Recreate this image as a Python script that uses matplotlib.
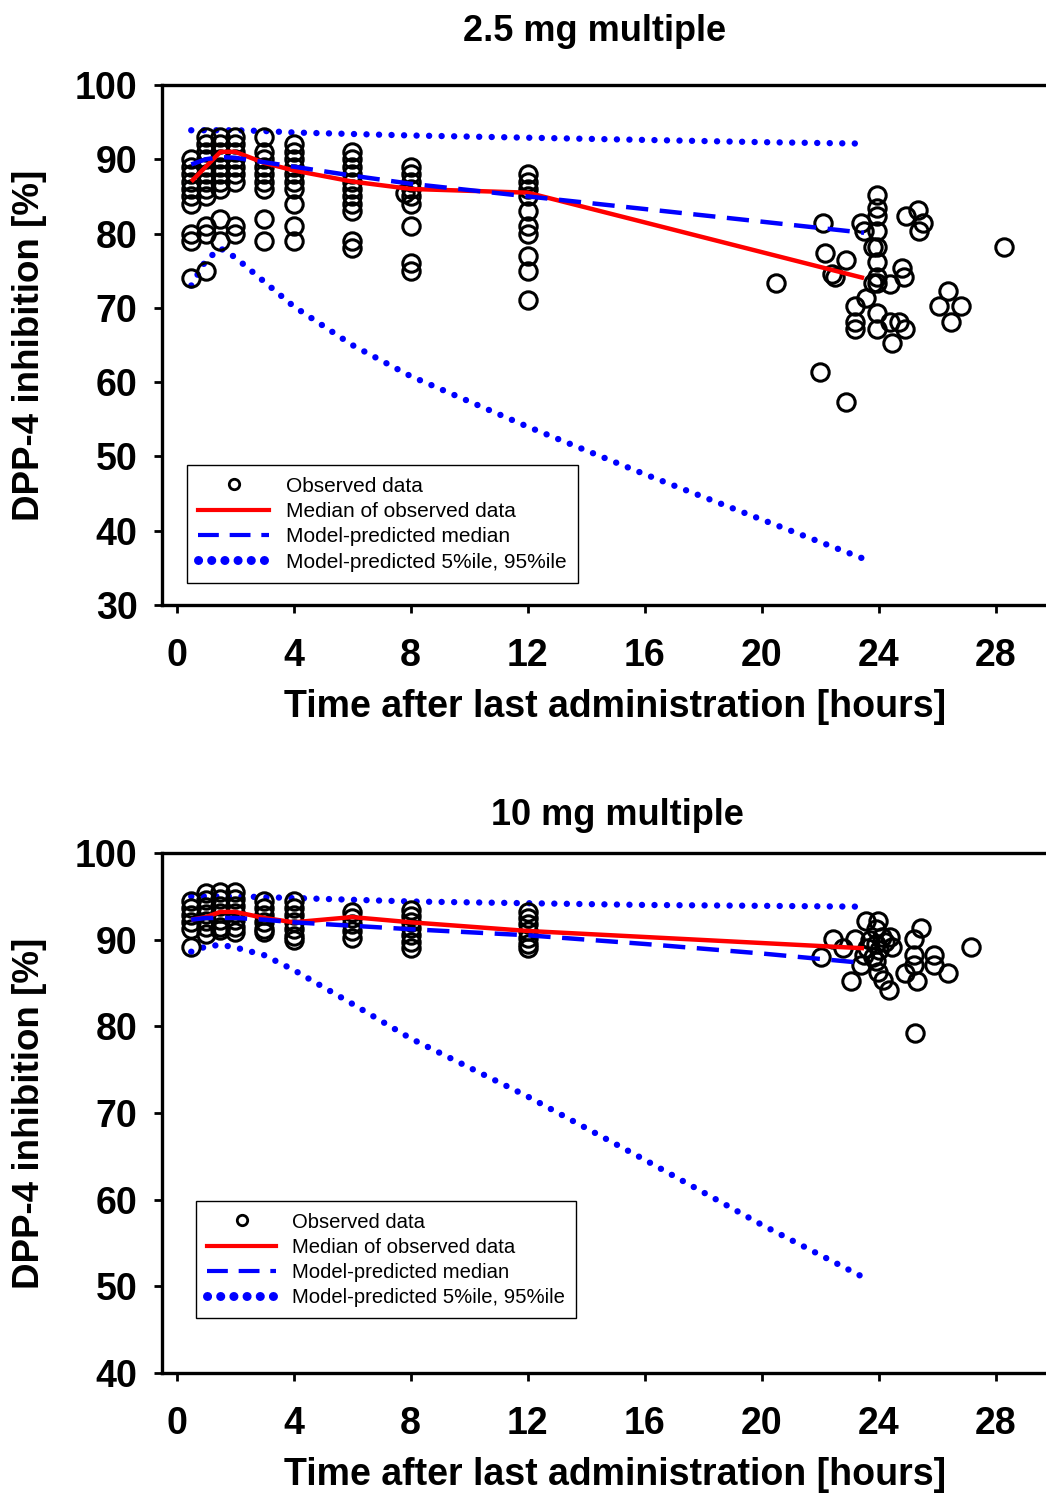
import numpy as np
import matplotlib
matplotlib.use("Agg")
import matplotlib.pyplot as plt
from matplotlib.lines import Line2D

plt.rcParams['font.family'] = ['Liberation Sans', 'DejaVu Sans']

# ---------------- 2.5 mg multiple dose ----------------
obs25_times = [0.5, 1, 1.5, 2, 3, 4, 6, 8, 12]
obs25_values = [
    [90, 89, 88, 87, 86, 85, 84, 80, 79, 74],
    [93, 92, 91, 90, 89, 88, 87, 86, 85, 81, 80, 75],
    [93, 92, 91, 90, 89, 88, 87, 86, 82, 79],
    [93, 92, 91, 90, 89, 88, 87, 81, 80],
    [93, 91, 90, 89, 88, 87, 86, 82, 79],
    [92, 91, 90, 89, 88, 87, 86, 84, 81, 79],
    [91, 90, 89, 88, 87, 86, 85, 84, 83, 79, 78],
    [89, 88, 87, 86, 85, 84, 81, 76, 75],
    [88, 87, 86, 85, 83, 81, 80, 77, 75, 71],
]
late25_t = [7.8, 20.5, 22.0, 22.1, 22.15, 22.4, 22.5, 22.9, 22.9, 23.2, 23.2, 23.2,
            23.4, 23.5, 23.55, 23.8, 23.95, 23.95, 23.95, 23.95, 23.95, 23.95, 23.95,
            23.95, 23.8, 23.95, 23.95, 24.4, 24.4, 24.7, 24.45, 24.9, 24.8, 24.85,
            24.95, 25.34, 25.5, 25.37, 26.37, 26.06, 26.8, 26.46, 28.3]
late25_v = [85.5, 73.3, 61.3, 81.4, 77.4, 74.5, 74.2, 76.4, 57.3, 70.3, 68.1, 67.2,
            81.4, 80.3, 71.3, 78.2, 78.2, 85.2, 83.4, 82.4, 80.3, 76.2, 74.2,
            73.3, 73.3, 69.3, 67.2, 73.2, 68.1, 68.1, 65.2, 67.2, 75.3, 74.2,
            82.3, 83.2, 81.4, 80.3, 72.3, 70.3, 70.3, 68.1, 78.2]

med25_t = [0.5, 1, 1.5, 2, 3, 4, 6, 8, 12, 23.5]
med25_v = [87, 89, 91, 91, 89.5, 88.5, 87, 86, 85.5, 74]

pred25_t = [0.5, 1, 1.5, 2, 3, 4, 6, 8, 12, 16, 20, 23.5]
pred25_med = [89.3, 90.0, 90.3, 90.2, 89.6, 89.0, 87.8, 86.7, 85.0, 83.3, 81.6, 80.1]
pred25_p95 = [93.9, 93.9, 93.9, 93.9, 93.8, 93.6, 93.4, 93.2, 92.9, 92.6, 92.3, 92.1]
pred25_p05 = [73.0, 76.4, 78.0, 76.8, 73.5, 70.2, 65.0, 60.8, 54.0, 47.6, 41.5, 36.2]

# ---------------- 10 mg multiple dose ----------------
obs10_times = [0.5, 1, 1.5, 2, 3, 4, 6, 8, 12]
obs10_values = [
    [94.4, 93.6, 92.8, 92.0, 91.2, 89.2],
    [95.4, 94.6, 93.8, 93.0, 92.2, 91.4, 90.6],
    [95.5, 94.7, 93.9, 93.1, 92.3, 91.5, 91.1],
    [95.5, 94.7, 93.9, 93.1, 92.3, 91.5, 90.9],
    [94.4, 93.6, 92.8, 92.0, 91.2, 90.9],
    [94.4, 93.6, 92.8, 92.0, 91.2, 90.4, 90.0],
    [93.2, 92.5, 91.8, 91.0, 90.2],
    [93.4, 92.7, 92.0, 91.3, 90.5, 89.7, 89.0],
    [93.2, 92.5, 91.8, 91.0, 90.2, 89.5, 89.0],
]
late10_t = [22.03, 22.44, 22.77, 23.07, 23.18, 23.4, 23.58, 23.98, 23.9, 23.7, 23.9,
            24.0, 23.8, 23.9, 24.1, 23.98, 24.15, 24.35, 24.4, 24.46, 25.46, 25.2,
            25.2, 25.2, 24.9, 25.3, 25.9, 25.9, 26.37, 27.16, 25.23, 23.6, 23.5, 24.2]
late10_v = [88.0, 90.1, 89.0, 85.2, 90.1, 87.1, 92.1, 92.1, 91.2, 90.0, 89.5,
            88.8, 88.0, 87.5, 90.3, 86.3, 85.3, 84.2, 90.3, 89.2, 91.3, 90.1,
            88.2, 87.1, 86.1, 85.2, 88.2, 87.1, 86.1, 89.2, 79.2, 89.0, 88.2, 89.7]

med10_t = [0.5, 1, 1.5, 2, 3, 4, 6, 8, 12, 23.5]
med10_v = [92.3, 92.6, 93.2, 93.2, 92.5, 92.0, 92.6, 92.0, 91.0, 89.0]

pred10_t = [0.5, 1, 1.5, 2, 3, 4, 6, 8, 12, 16, 20, 23.5]
pred10_med = [92.3, 92.5, 92.5, 92.5, 92.3, 92.0, 91.6, 91.2, 90.5, 89.5, 88.4, 87.3]
pred10_p95 = [95.0, 95.0, 95.0, 95.0, 94.9, 94.8, 94.6, 94.4, 94.2, 94.0, 93.9, 93.8]
pred10_p05 = [88.6, 89.2, 89.4, 89.1, 88.2, 86.5, 82.6, 78.6, 71.9, 64.6, 57.1, 51.0]

xticks = [0, 4, 8, 12, 16, 20, 24, 28]
legend_labels = ["Observed data", "Median of observed data",
                 "Model-predicted median", "Model-predicted 5%ile, 95%ile"]

BLUE = "#0000ff"
RED = "#ff0000"
TICK_FS = 27
DOT = (0, (0.01, 1.95))
LEG_DOT = (0, (0.01, 1.45))


def flatten(times, values):
    tt, vv = [], []
    for t, vals in zip(times, values):
        tt += [t] * len(vals)
        vv += list(vals)
    return tt, vv


def panel(ax, obs_t, obs_v, late_t, late_v, med_t, med_v, pt, pmed, p95, p05,
          ylim, yticks, title, title_xy, leg_anchor, leg_fs):
    ot, ov = flatten(obs_t, obs_v)
    ot += late_t
    ov += late_v
    ax.plot(ot, ov, linestyle='none', marker='o', markersize=12.5,
            markerfacecolor='none', markeredgecolor='black', markeredgewidth=2.2,
            zorder=3)
    ax.plot(pt, p95, color=BLUE, lw=4.6, linestyle=DOT, dash_capstyle='round', zorder=2)
    ax.plot(pt, p05, color=BLUE, lw=4.6, linestyle=DOT, dash_capstyle='round', zorder=2)
    ax.plot(med_t, med_v, color=RED, lw=3.2, solid_capstyle='butt', zorder=4)
    ax.plot(pt, pmed, color=BLUE, lw=3.2, dashes=(5, 2.6), zorder=5)

    ax.set_xlim(-0.51, 29.72)
    ax.set_ylim(*ylim)
    ax.set_xticks(xticks)
    ax.set_yticks(yticks)
    for s in ('left', 'bottom', 'top'):
        ax.spines[s].set_linewidth(2.4)
    ax.spines['right'].set_visible(False)
    ax.tick_params(axis='both', direction='out', length=5.5, width=2.0,
                   labelsize=TICK_FS, top=False, right=False)
    ax.tick_params(axis='x', pad=18)
    ax.tick_params(axis='y', pad=12)
    for lab in ax.get_xticklabels() + ax.get_yticklabels():
        lab.set_fontweight('bold')

    ax.set_xlabel("Time after last administration [hours]", fontsize=27,
                  fontweight='bold', va='center')
    ax.xaxis.set_label_coords(0.5126, -0.197)
    ax.set_ylabel("DPP-4 inhibition [%]", fontsize=26.5, fontweight='bold', va='center')
    ax.yaxis.set_label_coords(-0.149, 0.5)
    ax.text(title_xy[0], title_xy[1], title, transform=ax.transAxes, ha='center',
            va='center', fontsize=26, fontweight='bold')

    handles = [
        Line2D([], [], linestyle='none', marker='o', markersize=7.5,
               markerfacecolor='none', markeredgecolor='black', markeredgewidth=2),
        Line2D([], [], color=RED, lw=3),
        Line2D([], [], color=BLUE, lw=3, dashes=(5, 2.6)),
        Line2D([], [], color=BLUE, lw=6.5, linestyle=LEG_DOT, dash_capstyle='round'),
    ]
    leg = ax.legend(handles, legend_labels, loc='lower left', bbox_to_anchor=leg_anchor,
                    bbox_transform=ax.transAxes, fontsize=leg_fs,
                    handlelength=3.4, handletextpad=0.8, borderpad=0.55,
                    labelspacing=0.3, borderaxespad=0, fancybox=False,
                    edgecolor='black', framealpha=1)
    leg.get_frame().set_linewidth(1.0)


fig = plt.figure(figsize=(10.46, 14.93), dpi=100)
ax1 = fig.add_axes([161.7 / 1046, 0.5948, 1 - 161.7 / 1046, 0.3483])
ax2 = fig.add_axes([161.7 / 1046, 0.0804, 1 - 161.7 / 1046, 0.3483])

panel(ax1, obs25_times, obs25_values, late25_t, late25_v, med25_t, med25_v,
      pred25_t, pred25_med, pred25_p95, pred25_p05,
      (30, 100), [30, 40, 50, 60, 70, 80, 90, 100], "2.5 mg multiple", (0.49, 1.102),
      ((187 - 161.7) / 884.3, (605 - 583) / 520), 15.0)
panel(ax2, obs10_times, obs10_values, late10_t, late10_v, med10_t, med10_v,
      pred10_t, pred10_med, pred10_p95, pred10_p05,
      (40, 100), [40, 50, 60, 70, 80, 90, 100], "10 mg multiple", (0.515, 1.072),
      ((196 - 161.7) / 884.3, (1373 - 1318) / 520), 14.6)

fig.savefig("out.png", dpi=100)
